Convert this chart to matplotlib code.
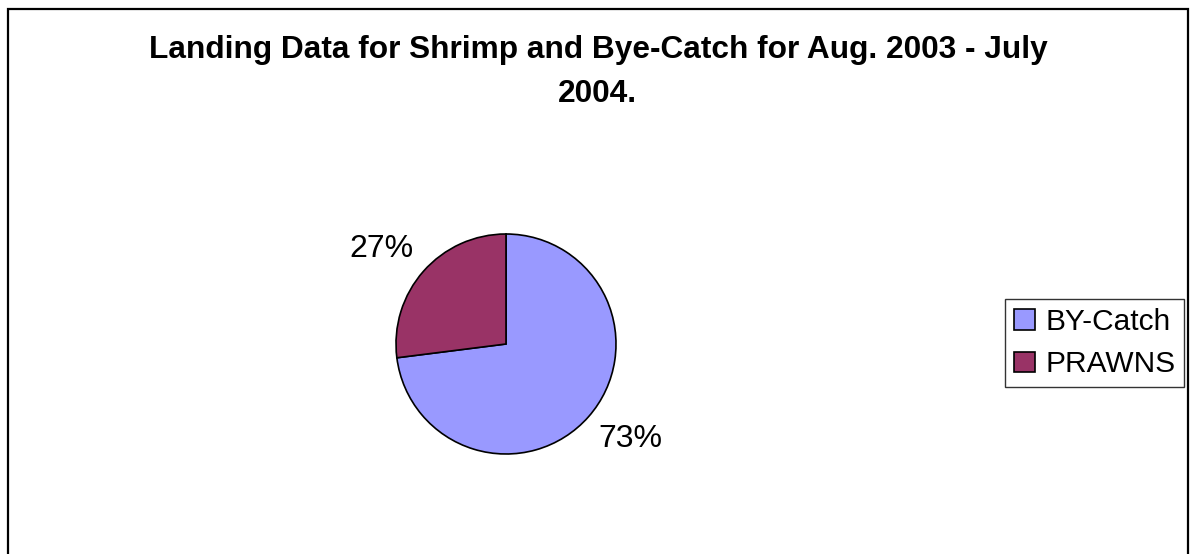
import matplotlib.pyplot as plt
from matplotlib.patches import Rectangle

plt.rcParams['font.family'] = ['Liberation Sans', 'DejaVu Sans']

labels = ['BY-Catch', 'PRAWNS']
shares = [73, 27]
colors = ['#9999FF', '#993366']
title = 'Landing Data for Shrimp and Bye-Catch for Aug. 2003 - July\n2004.'

fig = plt.figure(figsize=(11.91, 5.54), dpi=100)

# outer chart border (runs off the bottom edge)
fig.patches.append(Rectangle((8 / 1191, -0.05), 1180 / 1191, 1.05 - 9 / 554,
                             transform=fig.transFigure, fill=False,
                             edgecolor='black', linewidth=1.6))

fig.text(0.502, 1 - 35 / 554, title, ha='center', va='top',
         fontsize=22.8, fontweight='bold', linespacing=1.6)

ax = fig.add_axes([396 / 1191, 1 - 454 / 554, 220 / 1191, 220 / 554])
wedges, texts, autotexts = ax.pie(
    shares, colors=colors, startangle=90, counterclock=False,
    autopct='%1.0f%%', pctdistance=1.42,
    wedgeprops=dict(edgecolor='black', linewidth=1.2),
    textprops=dict(fontsize=23))
ax.set_xlim(-1, 1)
ax.set_ylim(-1, 1)
ax.set_aspect('equal')
# push the percentages out sideways, a little flatter than a circle
for t in autotexts:
    x, y = t.get_position()
    t.set_position((x * 1.065, y * 0.92))
    t.set_clip_on(False)

leg = fig.legend(wedges, labels, loc='center',
                 bbox_to_anchor=(1094.5 / 1191, 1 - 343 / 554),
                 fontsize=21.5, frameon=True, fancybox=False,
                 edgecolor='black', handlelength=0.7, handleheight=0.7,
                 handletextpad=0.35, labelspacing=0.5, borderpad=0.3)
leg.get_frame().set_linewidth(1.0)

fig.savefig('out.png', dpi=100)
